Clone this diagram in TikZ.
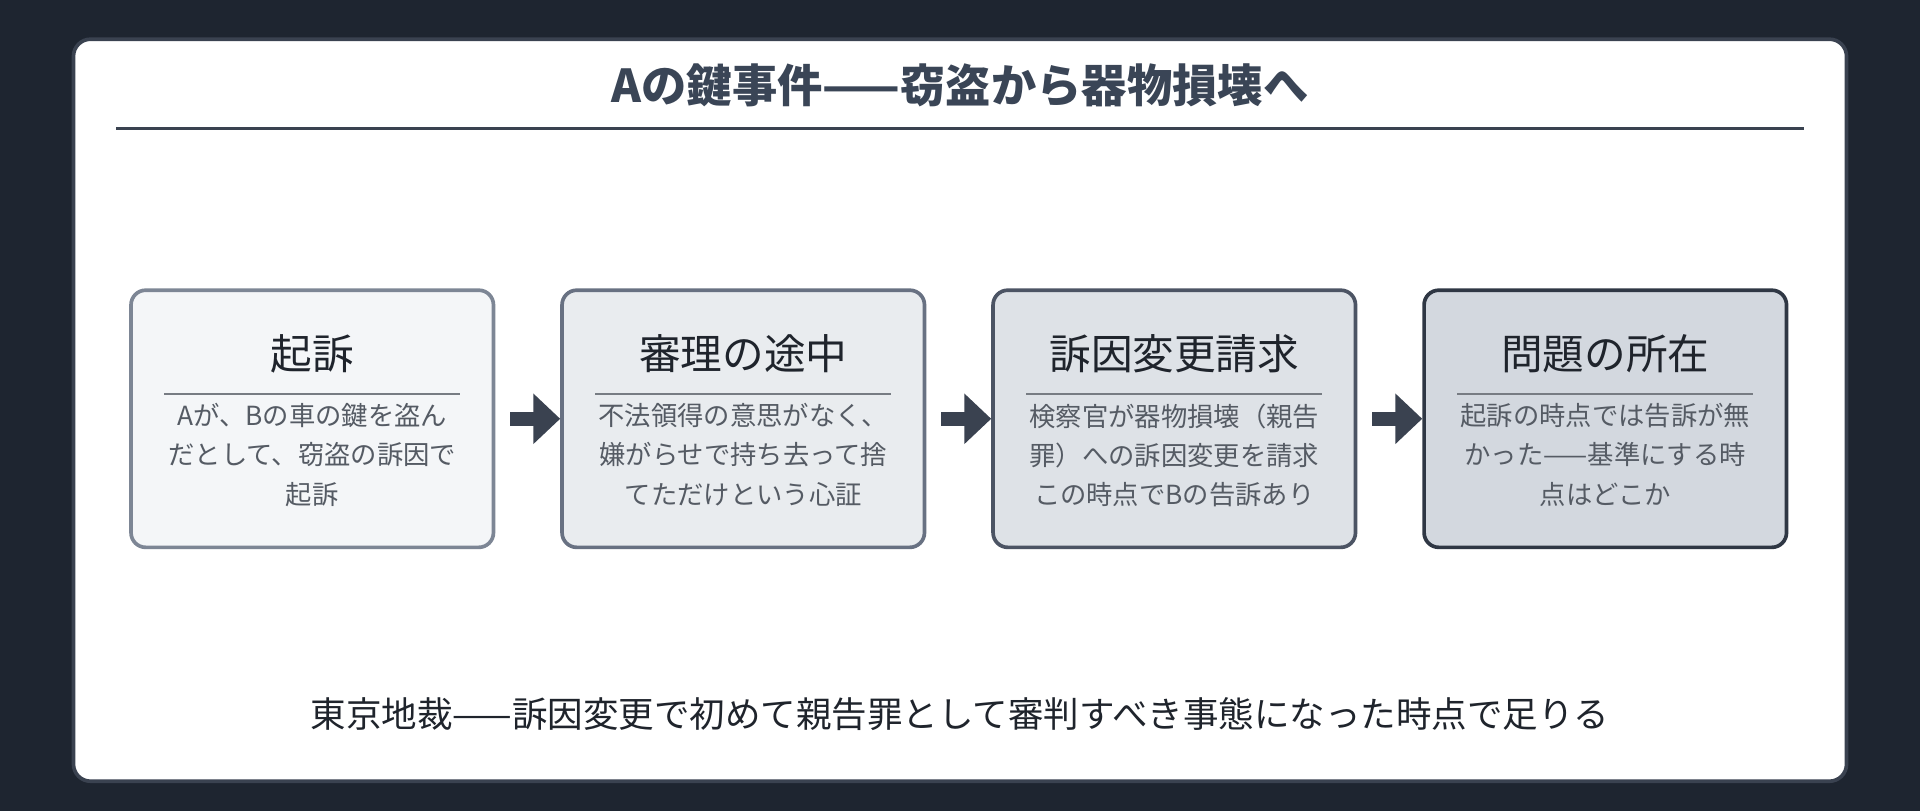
\documentclass[tikz,border=0pt]{standalone}
\usepackage{fontspec}
\setmainfont{Noto Sans CJK JP}
\usetikzlibrary{arrows.meta}
\definecolor{bg}{HTML}{1E2530}
\definecolor{frame}{HTML}{3A4250}
\definecolor{ttl}{HTML}{3A4556}
\definecolor{ink}{HTML}{1F242C}
\definecolor{body}{HTML}{555B64}
\definecolor{fA}{HTML}{F4F6F8}\definecolor{bA}{HTML}{7D8695}
\definecolor{fB}{HTML}{E9ECEF}\definecolor{bB}{HTML}{687182}
\definecolor{fC}{HTML}{DEE2E7}\definecolor{bC}{HTML}{4C5464}
\definecolor{fD}{HTML}{D3D8DF}\definecolor{bD}{HTML}{2F3744}
\tikzset{
 x=1pt,y=-1pt,
 box/.style={draw, line width=3pt, rounded corners=12pt, minimum width=296pt, minimum height=210pt, inner sep=0pt},
 head/.style={font=\fontsize{34}{40}\selectfont, text=ink},
 bodyt/.style={font=\fontsize{21.5}{32}\selectfont, text=body, align=center},
 uline/.style={draw=body!80, line width=1.5pt},
 flow/.style={draw=frame, line width=11pt, -{Triangle[length=22pt,width=40pt]}, shorten >=0pt}
}
\begin{document}
\begin{tikzpicture}
\fill[bg] (0,0) rectangle (1568,662);
\useasboundingbox (0,0) rectangle (1568,662);
\draw[frame, fill=white, line width=3pt, rounded corners=14pt] (60,32) rectangle (1508,638);
\node[font=\bfseries\fontsize{37}{42}\selectfont, text=ttl] (title) at (784,70) {Aの鍵事件——窃盗から器物損壊へ};
\draw[frame, line width=2pt] (95,105) -- (1473,105);
\foreach \i/\x/\f/\b/\h/\t in {
 1/255/fA/bA/起訴/{Aが、Bの車の鍵を盗ん\\だとして、窃盗の訴因で\\起訴},
 2/607/fB/bB/審理の途中/{不法領得の意思がなく、\\嫌がらせで持ち去って捨\\てただけという心証},
 3/959/fC/bC/訴因変更請求/{検察官が器物損壊（親告\\罪）への訴因変更を請求\\この時点でBの告訴あり},
 4/1311/fD/bD/問題の所在/{起訴の時点では告訴が無\\かった——基準にする時\\点はどこか}}{
 \node[box, fill=\f, draw=\b] (b\i) at (\x,342) {};
 \node[head] (h\i) at (\x,289) {\h};
 \draw[uline] (\x-121,322) -- (\x+121,322);
 \node[bodyt, anchor=north] (t\i) at (\x,326) {\t};
}
\foreach \a/\b in {1/2,2/3,3/4}{
 \coordinate (s\a) at ([xshift=12pt]b\a.east);
 \draw[flow] (s\a) -- (b\b.west);
}
\node[font=\fontsize{29}{34}\selectfont, text=ink] (foot) at (784,583) {東京地裁——訴因変更で初めて親告罪として審判すべき事態になった時点で足りる};
\end{tikzpicture}
\end{document}
